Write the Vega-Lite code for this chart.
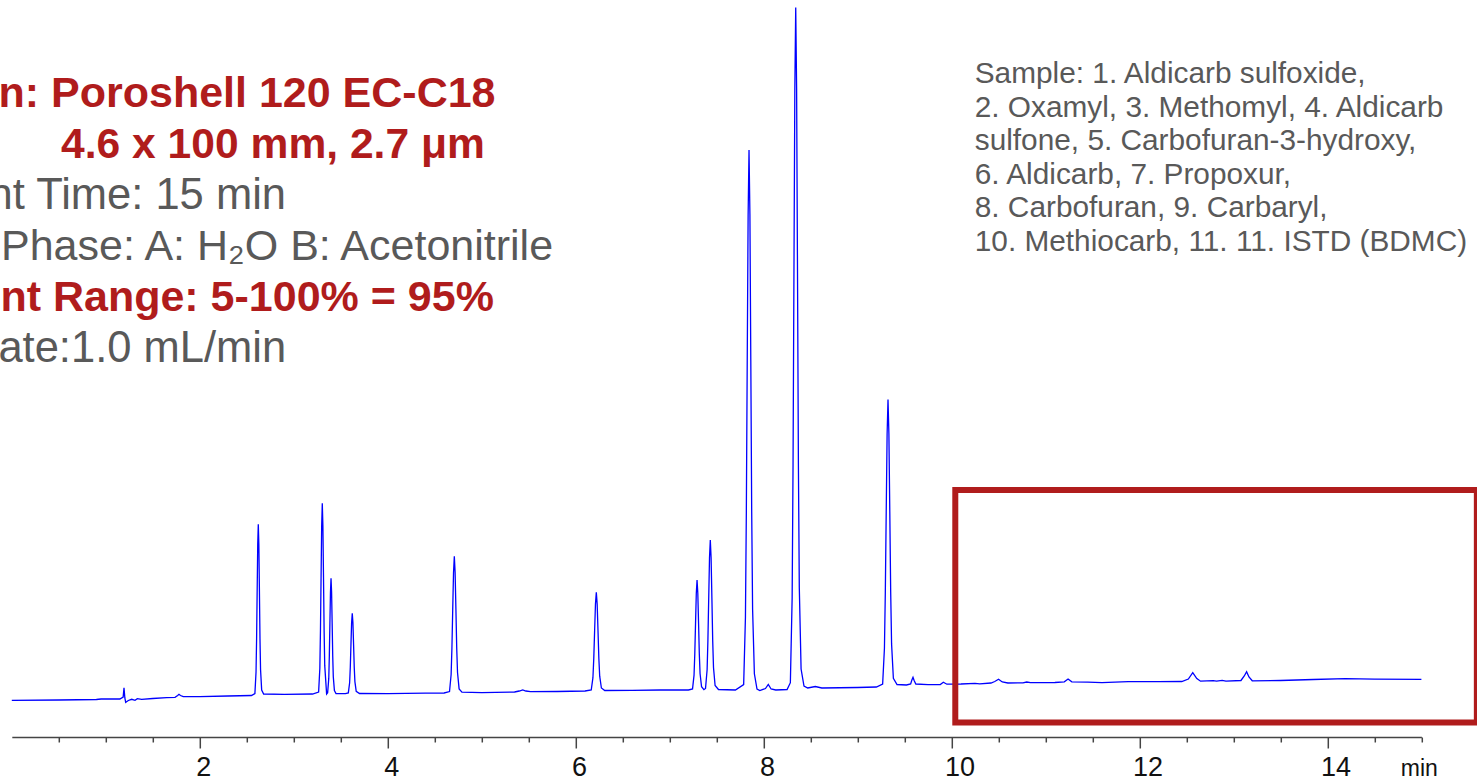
{
  "$schema": "https://vega.github.io/schema/vega-lite/v6.json",
  "width": 1409.6,
  "height": 737,
  "autosize": {"type": "none"},
  "padding": {"left": 11.8, "top": 0, "right": 55.6, "bottom": 42},
  "background": "white",
  "config": {"view": {"stroke": null}, "font": "Liberation Sans"},
  "datasets": {
    "trace": [
      {"time": 0, "signal": -0.3}, {"time": 0.5, "signal": 0}, {"time": 0.9, "signal": 0.5}, {"time": 0.95, "signal": 1.0},
      {"time": 1.15, "signal": 1.0}, {"time": 1.185, "signal": 3.0}, {"time": 1.194, "signal": 12.3}, {"time": 1.203, "signal": 2.0},
      {"time": 1.212, "signal": -2.3}, {"time": 1.24, "signal": -0.5}, {"time": 1.276, "signal": 0.7}, {"time": 1.311, "signal": -0.3},
      {"time": 1.336, "signal": 1.3}, {"time": 1.382, "signal": 0.7}, {"time": 1.5, "signal": 1.5}, {"time": 1.648, "signal": 2.3},
      {"time": 1.737, "signal": 2.7}, {"time": 1.765, "signal": 4.5}, {"time": 1.779, "signal": 5.7}, {"time": 1.795, "signal": 4.5},
      {"time": 1.825, "signal": 3.3}, {"time": 2.0, "signal": 3.3}, {"time": 2.3, "signal": 4.0}, {"time": 2.55, "signal": 4.5},
      {"time": 2.587, "signal": 6.5}, {"time": 2.599, "signal": 27.9}, {"time": 2.605, "signal": 61.2}, {"time": 2.611, "signal": 109.0},
      {"time": 2.617, "signal": 155.2}, {"time": 2.623, "signal": 175.7}, {"time": 2.629, "signal": 155.2}, {"time": 2.635, "signal": 109.0},
      {"time": 2.641, "signal": 61.2}, {"time": 2.647, "signal": 30.4}, {"time": 2.659, "signal": 9.9}, {"time": 2.68, "signal": 6.0},
      {"time": 2.9, "signal": 5.7}, {"time": 3.2, "signal": 6.0},
      {"time": 3.265, "signal": 7.9}, {"time": 3.278, "signal": 31.7}, {"time": 3.2845, "signal": 68.9}, {"time": 3.291, "signal": 122.3},
      {"time": 3.2975, "signal": 173.8}, {"time": 3.304, "signal": 196.7}, {"time": 3.3105, "signal": 173.8}, {"time": 3.317, "signal": 122.3},
      {"time": 3.3235, "signal": 68.9}, {"time": 3.33, "signal": 34.6}, {"time": 3.35, "signal": 6.0},
      {"time": 3.361, "signal": 7.2}, {"time": 3.373, "signal": 21.6}, {"time": 3.379, "signal": 44.2}, {"time": 3.385, "signal": 76.6},
      {"time": 3.391, "signal": 107.8}, {"time": 3.397, "signal": 121.7}, {"time": 3.403, "signal": 107.8}, {"time": 3.409, "signal": 76.6},
      {"time": 3.415, "signal": 44.2}, {"time": 3.421, "signal": 23.4}, {"time": 3.433, "signal": 9.5}, {"time": 3.45, "signal": 6.5},
      {"time": 3.55, "signal": 6.3},
      {"time": 3.581, "signal": 7.1}, {"time": 3.595, "signal": 17.2}, {"time": 3.602, "signal": 32.8}, {"time": 3.609, "signal": 55.3},
      {"time": 3.616, "signal": 77.1}, {"time": 3.623, "signal": 86.7}, {"time": 3.63, "signal": 77.1}, {"time": 3.637, "signal": 55.3},
      {"time": 3.644, "signal": 32.8}, {"time": 3.651, "signal": 18.4}, {"time": 3.665, "signal": 8.7}, {"time": 3.7, "signal": 6.5},
      {"time": 4.0, "signal": 6.3}, {"time": 4.4, "signal": 6.8}, {"time": 4.6, "signal": 7.0},
      {"time": 4.658, "signal": 8.4}, {"time": 4.675, "signal": 25.5}, {"time": 4.6835, "signal": 52.1}, {"time": 4.692, "signal": 90.4},
      {"time": 4.7005, "signal": 127.3}, {"time": 4.709, "signal": 143.7}, {"time": 4.7175, "signal": 127.3}, {"time": 4.726, "signal": 90.4},
      {"time": 4.7345, "signal": 52.1}, {"time": 4.743, "signal": 27.5}, {"time": 4.76, "signal": 11.1}, {"time": 4.79, "signal": 7.8},
      {"time": 5.0, "signal": 7.3}, {"time": 5.35, "signal": 8.0}, {"time": 5.4, "signal": 9.0}, {"time": 5.437, "signal": 10.0},
      {"time": 5.47, "signal": 9.0}, {"time": 5.52, "signal": 8.3}, {"time": 5.8, "signal": 8.5}, {"time": 6.1, "signal": 9.0},
      {"time": 6.166, "signal": 10.0}, {"time": 6.184, "signal": 22.3}, {"time": 6.193, "signal": 41.6}, {"time": 6.202, "signal": 69.2},
      {"time": 6.211, "signal": 95.9}, {"time": 6.22, "signal": 107.7}, {"time": 6.229, "signal": 95.9}, {"time": 6.238, "signal": 69.2},
      {"time": 6.247, "signal": 41.6}, {"time": 6.256, "signal": 23.8}, {"time": 6.274, "signal": 12.0}, {"time": 6.31, "signal": 9.5},
      {"time": 6.6, "signal": 9.7}, {"time": 6.9, "signal": 10.0}, {"time": 7.2, "signal": 10.0},
      {"time": 7.244, "signal": 11.1}, {"time": 7.26, "signal": 24.9}, {"time": 7.268, "signal": 46.3}, {"time": 7.276, "signal": 77.1},
      {"time": 7.284, "signal": 106.8}, {"time": 7.292, "signal": 120}, {"time": 7.3, "signal": 106.8}, {"time": 7.308, "signal": 77.1},
      {"time": 7.316, "signal": 46.3}, {"time": 7.324, "signal": 26.5}, {"time": 7.34, "signal": 13.3}, {"time": 7.365, "signal": 10.3},
      {"time": 7.382, "signal": 11.5}, {"time": 7.399, "signal": 30.3}, {"time": 7.4075, "signal": 59.5}, {"time": 7.416, "signal": 101.5},
      {"time": 7.4245, "signal": 142}, {"time": 7.433, "signal": 160}, {"time": 7.4415, "signal": 142}, {"time": 7.45, "signal": 101.5},
      {"time": 7.4585, "signal": 59.5}, {"time": 7.467, "signal": 32.5}, {"time": 7.484, "signal": 14.5}, {"time": 7.52, "signal": 10.5},
      {"time": 7.7, "signal": 10.0},
      {"time": 7.788, "signal": 15.4}, {"time": 7.807, "signal": 82.9}, {"time": 7.8165, "signal": 188.2}, {"time": 7.826, "signal": 339.4},
      {"time": 7.8355, "signal": 485.2}, {"time": 7.845, "signal": 550}, {"time": 7.8545, "signal": 485.2}, {"time": 7.864, "signal": 339.4},
      {"time": 7.8735, "signal": 188.2}, {"time": 7.883, "signal": 91}, {"time": 7.902, "signal": 26.2}, {"time": 7.93, "signal": 11},
      {"time": 7.96, "signal": 9.5}, {"time": 8.02, "signal": 11.5}, {"time": 8.05, "signal": 15.5}, {"time": 8.08, "signal": 11},
      {"time": 8.13, "signal": 10}, {"time": 8.25, "signal": 10.5},
      {"time": 8.285, "signal": 17.3}, {"time": 8.304, "signal": 102.6}, {"time": 8.3135, "signal": 235.6}, {"time": 8.323, "signal": 426.5},
      {"time": 8.3325, "signal": 610.7}, {"time": 8.342, "signal": 692.5}, {"time": 8.3515, "signal": 610.7}, {"time": 8.361, "signal": 426.5},
      {"time": 8.3705, "signal": 235.6}, {"time": 8.38, "signal": 112.8}, {"time": 8.399, "signal": 31}, {"time": 8.43, "signal": 14},
      {"time": 8.47, "signal": 12}, {"time": 8.55, "signal": 13.5}, {"time": 8.62, "signal": 12}, {"time": 9.0, "signal": 12.5},
      {"time": 9.2, "signal": 13},
      {"time": 9.267, "signal": 15.9}, {"time": 9.286, "signal": 51.8}, {"time": 9.2955, "signal": 107.9}, {"time": 9.305, "signal": 188.4},
      {"time": 9.3145, "signal": 266}, {"time": 9.324, "signal": 300.5}, {"time": 9.3335, "signal": 266}, {"time": 9.343, "signal": 188.4},
      {"time": 9.3525, "signal": 107.9}, {"time": 9.362, "signal": 56.1}, {"time": 9.381, "signal": 21.6}, {"time": 9.42, "signal": 15.5},
      {"time": 9.52, "signal": 15},
      {"time": 9.565, "signal": 16}, {"time": 9.578, "signal": 20}, {"time": 9.59, "signal": 22.7}, {"time": 9.602, "signal": 19.5},
      {"time": 9.62, "signal": 16}, {"time": 9.75, "signal": 15.3}, {"time": 9.88, "signal": 15.5}, {"time": 9.913, "signal": 17.7},
      {"time": 9.95, "signal": 15.8}, {"time": 10.1, "signal": 16}, {"time": 10.25, "signal": 16.7}, {"time": 10.3, "signal": 16.2},
      {"time": 10.42, "signal": 17.0}, {"time": 10.46, "signal": 18.5}, {"time": 10.5, "signal": 20.7}, {"time": 10.54, "signal": 18.0},
      {"time": 10.6, "signal": 17.0}, {"time": 10.76, "signal": 17.2}, {"time": 10.8, "signal": 18.0}, {"time": 10.84, "signal": 17.3},
      {"time": 11.1, "signal": 17.5}, {"time": 11.2, "signal": 18.2}, {"time": 11.24, "signal": 21.0}, {"time": 11.28, "signal": 18.2},
      {"time": 11.45, "signal": 17.8}, {"time": 11.6, "signal": 17.3}, {"time": 11.88, "signal": 18.3}, {"time": 12.2, "signal": 18.3},
      {"time": 12.45, "signal": 18.5}, {"time": 12.52, "signal": 21.0}, {"time": 12.567, "signal": 27.3}, {"time": 12.61, "signal": 21.5},
      {"time": 12.65, "signal": 18.8}, {"time": 12.785, "signal": 19.3}, {"time": 12.82, "signal": 18.8}, {"time": 12.88, "signal": 19.7},
      {"time": 12.92, "signal": 18.8}, {"time": 13.08, "signal": 19.5}, {"time": 13.115, "signal": 24}, {"time": 13.14, "signal": 28.3},
      {"time": 13.165, "signal": 23}, {"time": 13.2, "signal": 19.2}, {"time": 13.5, "signal": 19.5}, {"time": 13.85, "signal": 20.5},
      {"time": 14.19, "signal": 21.3}, {"time": 14.5, "signal": 20.8}, {"time": 15.0, "signal": 20.7}
    ]
  },
  "layer": [
    {
      "data": {"name": "trace"},
      "mark": {"type": "line", "color": "#0000ff", "strokeWidth": 1.3},
      "encoding": {
        "x": {
          "field": "time", "type": "quantitative",
          "scale": {"domain": [0, 15], "nice": false, "zero": false},
          "axis": {
            "title": "min",
            "values": [0.5, 1, 1.5, 2, 2.5, 3, 3.5, 4, 4.5, 5, 5.5, 6, 6.5, 7, 7.5, 8, 8.5, 9, 9.5, 10, 10.5, 11, 11.5, 12, 12.5, 13, 13.5, 14, 14.5, 15],
            "format": "~g",
            "labelExpr": "datum.value % 2 === 0 ? datum.label : ''",
            "tickSize": {"condition": {"test": "datum.value % 2 === 0", "value": 11}, "value": 5},
            "labelOffset": {"condition": {"test": "datum.value >= 10", "value": 8}, "value": 3.5},
            "labelFont": "Liberation Sans", "labelFontSize": 27, "labelColor": "#111111",
            "labelBaseline": "alphabetic", "labelPadding": 27, "labelAlign": "center",
            "labelOverlap": false, "labelFlush": false, "labelBound": false,
            "domainColor": "#444444", "domainWidth": 1.5, "tickColor": "#444444", "tickWidth": 1.5,
            "grid": false,
            "titleX": 1407, "titleY": 38, "titleAlign": "center", "titleBaseline": "alphabetic",
            "titleFont": "Liberation Sans", "titleFontSize": 23, "titleFontWeight": "normal", "titleColor": "#111111"
          }
        },
        "y": {
          "field": "signal", "type": "quantitative",
          "scale": {"domain": [-37, 700], "nice": false, "zero": false},
          "axis": {"title": null, "domain": false, "ticks": false, "labels": false, "grid": false}
        }
      }
    },
    {
      "data": {"values": [{}]},
      "mark": {"type": "rect", "fill": "transparent", "stroke": "#b01c1c", "strokeWidth": 6, "strokeJoin": "miter"},
      "encoding": {
        "x": {"datum": 10.04, "type": "quantitative"},
        "x2": {"datum": 15.59},
        "y": {"datum": 210, "type": "quantitative"},
        "y2": {"datum": -22.5}
      }
    },
    {
      "data": {"values": [{}]},
      "mark": {"type": "text", "text": "Column: Poroshell 120 EC-C18", "font": "Liberation Sans", "fontSize": 43, "fontWeight": "bold", "color": "#b01c1c", "align": "left", "baseline": "alphabetic"},
      "encoding": {"x": {"datum": -1.565, "type": "quantitative"}, "y": {"datum": 593.3, "type": "quantitative"}}
    },
    {
      "data": {"values": [{}]},
      "mark": {"type": "text", "text": "4.6 x 100 mm, 2.7 μm", "font": "Liberation Sans", "fontSize": 42.6, "fontWeight": "bold", "color": "#b01c1c", "align": "left", "baseline": "alphabetic"},
      "encoding": {"x": {"datum": 0.524, "type": "quantitative"}, "y": {"datum": 542.3, "type": "quantitative"}}
    },
    {
      "data": {"values": [{}]},
      "mark": {"type": "text", "text": "Gradient Time: 15 min", "font": "Liberation Sans", "fontSize": 43.5, "color": "#595959", "align": "left", "baseline": "alphabetic"},
      "encoding": {"x": {"datum": -1.636, "type": "quantitative"}, "y": {"datum": 491, "type": "quantitative"}}
    },
    {
      "data": {"values": [{}]},
      "mark": {"type": "text", "text": "Mobile Phase: A: H₂O B: Acetonitrile", "font": "Liberation Sans", "fontSize": 43, "color": "#595959", "align": "left", "baseline": "alphabetic"},
      "encoding": {"x": {"datum": -1.59, "type": "quantitative"}, "y": {"datum": 440, "type": "quantitative"}}
    },
    {
      "data": {"values": [{}]},
      "mark": {"type": "text", "text": "Gradient Range: 5-100% = 95%", "font": "Liberation Sans", "fontSize": 43, "fontWeight": "bold", "color": "#b01c1c", "align": "left", "baseline": "alphabetic"},
      "encoding": {"x": {"datum": -1.571, "type": "quantitative"}, "y": {"datum": 389.3, "type": "quantitative"}}
    },
    {
      "data": {"values": [{}]},
      "mark": {"type": "text", "text": "Flow Rate:1.0 mL/min", "font": "Liberation Sans", "fontSize": 43.5, "color": "#595959", "align": "left", "baseline": "alphabetic"},
      "encoding": {"x": {"datum": -1.583, "type": "quantitative"}, "y": {"datum": 338.3, "type": "quantitative"}}
    },
    {
      "data": {"values": [{}]},
      "mark": {
        "type": "text",
        "text": ["Sample: 1. Aldicarb sulfoxide,", "2. Oxamyl, 3. Methomyl, 4. Aldicarb", "sulfone, 5. Carbofuran-3-hydroxy,", "6. Aldicarb, 7. Propoxur,", "8. Carbofuran, 9. Carbaryl,", "10. Methiocarb, 11. 11. ISTD (BDMC)"],
        "lineHeight": 33.5, "font": "Liberation Sans", "fontSize": 29.8, "color": "#595959", "align": "left", "baseline": "alphabetic"
      },
      "encoding": {"x": {"datum": 10.247, "type": "quantitative"}, "y": {"datum": 616.7, "type": "quantitative"}}
    }
  ]
}
